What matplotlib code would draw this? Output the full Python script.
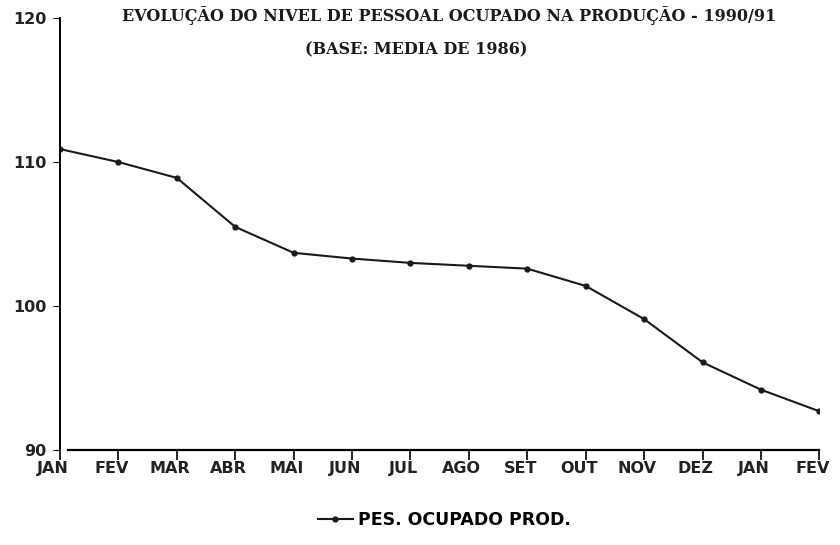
import matplotlib
matplotlib.use('Agg')
import matplotlib.pyplot as plt
import matplotlib.transforms as mtransforms

# ── dados ──
meses = ['JAN', 'FEV', 'MAR', 'ABR', 'MAI', 'JUN', 'JUL', 'AGO', 'SET',
         'OUT', 'NOV', 'DEZ', 'JAN', 'FEV']
pessoal = [110.9, 110.0, 108.9, 105.5, 103.7, 103.3, 103.0, 102.8, 102.6,
           101.4, 99.1, 96.1, 94.2, 92.7]
y_ticks = [90, 100, 110, 120]

titulo = 'EVOLUÇÃO DO NIVEL DE PESSOAL OCUPADO NA PRODUÇÃO - 1990/91'
subtitulo = '(BASE: MEDIA DE 1986)'
legenda = 'PES. OCUPADO PROD.'

fig = plt.figure(figsize=(8.4, 5.45), dpi=100)
ax = fig.add_axes([0.0714, 0.174, 0.904, 0.793])

x = list(range(len(meses)))
ax.plot(x, pessoal, color='#1a1a1a', lw=1.5, marker='o', ms=3.5,
        label=legenda)

ax.set_xlim(0, len(meses) - 1)
ax.set_ylim(90, 120)
ax.set_xticks(x)
ax.set_xticklabels(meses, fontsize=11.5, fontweight='bold',
                   family='DejaVu Sans', color='#222222')
ax.set_yticks(y_ticks)
ax.set_yticklabels([str(v) for v in y_ticks], fontsize=11.5,
                   fontweight='bold', family='DejaVu Sans',
                   color='#222222')
ax.tick_params(axis='x', direction='out', length=7, width=1.2, pad=1)
ax.tick_params(axis='y', direction='out', length=5, width=0.8, pad=5)

# rótulos do eixo x levemente deslocados para a esquerda (como no original)
desloc = mtransforms.ScaledTranslation(-5 / 72, 0, fig.dpi_scale_trans)
for lbl in ax.get_xticklabels():
    lbl.set_transform(lbl.get_transform() + desloc)

for s in ['top', 'right']:
    ax.spines[s].set_visible(False)
ax.spines['left'].set_linewidth(1.4)
ax.spines['bottom'].set_linewidth(1.6)
ax.spines['bottom'].set_bounds(0.14, len(meses) - 1)

# títulos
fig.text(0.535, 0.972, titulo, ha='center', va='center', fontsize=11.5,
         fontweight='bold', family='DejaVu Serif', color='#1a1a1a')
fig.text(0.495, 0.908, subtitulo, ha='center', va='center', fontsize=11.5,
         fontweight='bold', family='DejaVu Serif', color='#1a1a1a')

ax.legend(loc='upper center', bbox_to_anchor=(0.506, -0.105), frameon=False,
          handlelength=2.0, handletextpad=0.3,
          prop={'family': 'DejaVu Sans', 'weight': 'bold', 'size': 12.5})

fig.savefig('out.png', dpi=100)
